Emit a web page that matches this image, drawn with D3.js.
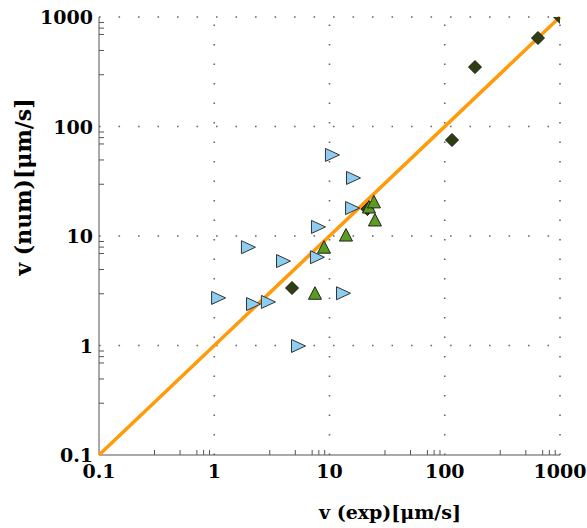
<!DOCTYPE html>
<html>
<head>
    <title>v num vs v exp</title>
    <script src="https://cdnjs.cloudflare.com/ajax/libs/d3/7.8.5/d3.min.js"></script>
    <style>
        body { margin: 0; background: #fff; }
        .tick-label {
            font-family: 'DejaVu Serif', serif;
            font-weight: bold;
            font-size: 19px;
            fill: #000;
        }
        .title {
            font-family: 'DejaVu Serif', serif;
            font-weight: bold;
            fill: #000;
        }
    </style>
</head>
<body>
    <div id="chart"></div>
    <script>
//------------------------------------DATA--------------------------------
        // light blue right triangles
        var blueX = [1.08, 1.96, 2.17, 2.92, 3.95, 5.33, 7.94, 7.78, 10.5, 16.0, 15.7, 13.1];
        var blueY = [2.72, 7.9, 2.39, 2.5, 5.9, 0.99, 12.1, 6.4, 55, 33.9, 18.0, 3.0];
        // green up triangles
        var greenX = [7.48, 8.96, 13.9, 22.0, 24.3, 24.8];
        var greenY = [3.0, 7.9, 10.2, 18.4, 20.5, 14.0];
        // dark diamonds
        var diamondX = [4.73, 21.3, 115.6, 183, 644, 1000];
        var diamondY = [3.35, 17.6, 75.3, 349, 643, 1000];

        var majorTicks = [0.1, 1, 10, 100, 1000];
        var tickLabels = ["0.1", "1", "10", "100", "1000"];
        var minorSteps = [3, 5, 7, 8, 9];
        var lineX = [0.1, 1000];

//------------------------------------BOX--------------------------------
        var W = 587, H = 528;
        var pLeft = 99, pRight = 560, pTop = 17, pBottom = 455;

        var svg = d3.select("#chart").append("svg")
            .attr("width", W)
            .attr("height", H);

        var x = d3.scaleLog().domain([0.1, 1000]).range([pLeft, pRight]);
        var y = d3.scaleLog().domain([0.1, 1000]).range([pBottom, pTop]);

        // minor tick values per decade
        var minorTicks = [];
        majorTicks.slice(0, 4).forEach(function (d) {
            minorSteps.forEach(function (k) { minorTicks.push(d * k); });
        });

        svg.append("clipPath").attr("id", "plotclip")
            .append("rect")
            .attr("x", pLeft).attr("y", pTop)
            .attr("width", pRight - pLeft).attr("height", pBottom - pTop);

//------------------------------------GRID--------------------------------
        var grid = svg.append("g")
            .attr("stroke", "#666")
            .attr("stroke-width", 1.6)
            .attr("stroke-dasharray", "1.6,17.9");

        grid.selectAll(".vg")
            .data(majorTicks.slice(1))
            .enter().append("line")
            .attr("x1", function (d) { return x(d); })
            .attr("x2", function (d) { return x(d); })
            .attr("y1", pBottom)
            .attr("y2", pTop);

        grid.selectAll(".hg")
            .data(majorTicks.slice(1))
            .enter().append("line")
            .attr("y1", function (d) { return y(d); })
            .attr("y2", function (d) { return y(d); })
            .attr("x1", pLeft)
            .attr("x2", pRight);

//------------------------------------AXES--------------------------------
        var xAxis = d3.axisTop(x)
            .tickValues(minorTicks)
            .tickSize(5)
            .tickFormat("");
        svg.append("g")
            .attr("transform", "translate(0," + pBottom + ")")
            .call(xAxis)
            .call(function (g) {
                g.select(".domain").attr("stroke", "#555").attr("d", "M" + pLeft + ",0H" + pRight);
                g.selectAll(".tick line").attr("stroke", "#555");
            });

        var yAxis = d3.axisRight(y)
            .tickValues(minorTicks)
            .tickSize(5)
            .tickFormat("");
        svg.append("g")
            .attr("transform", "translate(" + pLeft + ",0)")
            .call(yAxis)
            .call(function (g) {
                g.select(".domain").attr("stroke", "#555").attr("d", "M0," + pBottom + "V" + pTop);
                g.selectAll(".tick line").attr("stroke", "#555");
            });

        // tick labels
        svg.selectAll(".xl")
            .data(majorTicks)
            .enter().append("text")
            .attr("class", "tick-label")
            .attr("x", function (d) { return x(d); })
            .attr("y", 478)
            .attr("text-anchor", "middle")
            .text(function (d, i) { return tickLabels[i]; });

        svg.selectAll(".yl")
            .data(majorTicks)
            .enter().append("text")
            .attr("class", "tick-label")
            .attr("x", pLeft - 6)
            .attr("y", function (d) { return y(d) + 7; })
            .attr("text-anchor", "end")
            .text(function (d, i) { return tickLabels[i]; });

        // axis titles
        svg.append("text")
            .attr("class", "title")
            .attr("x", 390)
            .attr("y", 519)
            .attr("text-anchor", "middle")
            .style("font-size", "19px")
            .text("v (exp)[μm/s]");

        svg.append("text")
            .attr("class", "title")
            .attr("transform", "translate(31,187) rotate(-90)")
            .attr("text-anchor", "middle")
            .style("font-size", "22px")
            .text("v (num)[μm/s]");

//------------------------------------LINE--------------------------------
        svg.append("path")
            .datum(lineX)
            .attr("fill", "none")
            .attr("stroke", "#FF9A0A")
            .attr("stroke-width", 3.5)
            .attr("d", d3.line()
                .x(function (d) { return x(d); })
                .y(function (d) { return y(d); }));

//------------------------------------MARKERS--------------------------------
        var marks = svg.append("g").attr("clip-path", "url(#plotclip)");

        marks.selectAll(".dia")
            .data(diamondX)
            .enter().append("path")
            .attr("d", "M0,-6.5L6.5,0L0,6.5L-6.5,0Z")
            .attr("transform", function (d, i) {
                return "translate(" + x(d) + "," + y(diamondY[i]) + ")";
            })
            .attr("fill", "#2F3E12")
            .attr("stroke", "#1a1a1a")
            .attr("stroke-width", 1);

        marks.selectAll(".grn")
            .data(greenX)
            .enter().append("path")
            .attr("d", "M0,-6.5L6.5,6L-6.5,6Z")
            .attr("transform", function (d, i) {
                return "translate(" + x(d) + "," + y(greenY[i]) + ")";
            })
            .attr("fill", "#5A9C1E")
            .attr("stroke", "#222")
            .attr("stroke-width", 1);

        marks.selectAll(".blu")
            .data(blueX)
            .enter().append("path")
            .attr("d", "M-6.5,-6.5L7.5,0L-6.5,6.5Z")
            .attr("transform", function (d, i) {
                return "translate(" + x(d) + "," + y(blueY[i]) + ")";
            })
            .attr("fill", "#8DCDF2")
            .attr("stroke", "#333")
            .attr("stroke-width", 1);
    </script>
</body>
</html>
